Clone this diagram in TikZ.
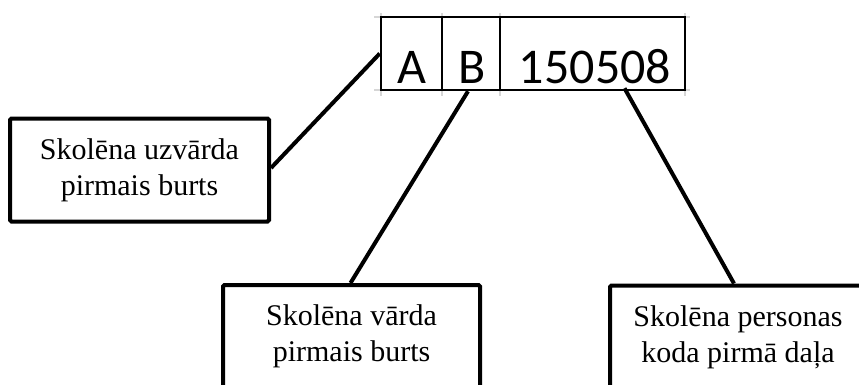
\documentclass[tikz,border=0pt]{standalone}
\usepackage{fontspec}
\setmainfont{Liberation Serif}
\newfontfamily\calibfont{Carlito}
\usetikzlibrary{calc}
\begin{document}
\begin{tikzpicture}[x=1pt,y=-1pt,
  infobox/.style={draw, line width=4pt, rounded corners=1.5pt, minimum height=103pt,
    align=center, font=\fontsize{30}{36}\selectfont, inner sep=0pt},
  cell/.style={draw, line width=2.5pt, inner sep=0pt, minimum height=73pt},
  celltext/.style={anchor=base, font=\calibfont\fontsize{50}{60}\selectfont, inner sep=0pt},
  gridstub/.style={draw=black!16, line width=2pt},
  connector/.style={line width=4pt}]
\useasboundingbox (0,0) rectangle (859,384);
\clip (0,0) rectangle (859,384);
\fill[white] (0,0) rectangle (859,384);
% light grid stubs
\draw[gridstub] (374,17) -- (690,17);
\draw[gridstub] (374,90) -- (690,90);
\foreach \gx in {381,442,500,685} \draw[gridstub] (\gx,13) -- (\gx,96);
% table cells
\node[cell, minimum width=61pt] (cellA) at (411.5,53.5) {};
\node[cell, minimum width=58pt] (cellB) at (471,53.5) {};
\node[cell, minimum width=185pt] (cellN) at (592.5,53.5) {};
\node[celltext] (tA) at (411.5,83) {A};
\node[celltext] (tB) at (472,83) {B};
\node[celltext] (tN) at (595,83) {150508};
% boxes
\node[infobox, minimum width=259pt] (leftbox) at (139.5,170) {Skolēna uzvārda\\pirmais burts};
\node[infobox, minimum width=257pt] (blbox) at (351.5,336.5) {Skolēna vārda\\pirmais burts};
\node[infobox, minimum width=256pt] (brbox) at (738,337) {Skolēna personas\\koda pirmā daļa};
% connectors
\draw[connector] ($(leftbox.east)+(0,-2)$) -- (cellA.west);
\draw[connector] ($(cellB.south)+(-3,0)$) -- ($(blbox.north)+(-1,0)$);
\draw[connector] ($(cellN.south)+(32,-3)$) -- ($(brbox.north)+(-4,0)$);
\end{tikzpicture}
\end{document}
